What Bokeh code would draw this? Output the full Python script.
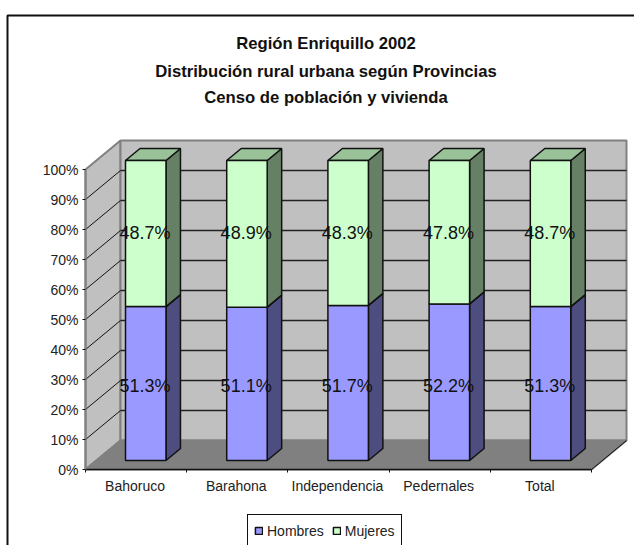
from bokeh.plotting import figure
from bokeh.embed import file_html
from bokeh.resources import INLINE
from bokeh.core.properties import value
from bokeh.models import (BoxAnnotation, FixedTicker, Label, Legend, LegendItem, Range1d)

provincias = ["Bahoruco", "Barahona", "Independencia", "Pedernales", "Total"]
hombres = [51.3, 51.1, 51.7, 52.2, 51.3]
mujeres = [48.7, 48.9, 48.3, 47.8, 48.7]
y_ticks = [0, 10, 20, 30, 40, 50, 60, 70, 80, 90, 100]
titulo = ["Región Enriquillo 2002",
          "Distribución rural urbana según Provincias",
          "Censo de población y vivienda"]

FONT = "Liberation Sans"
# oblique depth of the pseudo-3D box, in axis units per unit of depth
DX, DY = 35 / 101.2, 29 / 3
D_FRONT, D_BACK = 9 / 29, 21 / 29
BAR_GAP = 0.3
BAR_SHIFT = -0.012
LABEL_SHIFT = -0.02
LABEL_LEVELS = (25, 75.7)   # data labels sit on one common height per series


def pr(x, v, d):
    return x + d * DX, v + d * DY


W, H = 634, 545
ORIGIN_X, ORIGIN_Y = 85, 469   # where the axes cross, in pixels from the top-left
PX_CAT, PX_PCT = 101.2, 3

p = figure(width=W, height=H, output_backend="svg", toolbar_location=None,
           x_range=Range1d(-ORIGIN_X / PX_CAT, (W - ORIGIN_X) / PX_CAT),
           y_range=Range1d(-(H - ORIGIN_Y) / PX_PCT, ORIGIN_Y / PX_PCT),
           min_border=0, outline_line_color=None,
           background_fill_color="white", border_fill_color="white")
p.grid.visible = False

n = len(provincias)
# walls and floor
wx, wy = zip(pr(0, 0, 0), pr(0, 100, 0), pr(0, 100, 1), pr(0, 0, 1))
bx, by = zip(pr(0, 0, 1), pr(0, 100, 1), pr(n, 100, 1), pr(n, 0, 1))
fx, fy = zip(pr(0, 0, 0), pr(0, 0, 1), pr(n, 0, 1), pr(n, 0, 0))
p.patch(list(wx), list(wy), fill_color="#c0c0c0", line_color="#808080", line_width=2)
p.patch(list(bx), list(by), fill_color="#c0c0c0", line_color="#808080", line_width=2)
p.patch(list(fx), list(fy), fill_color="#808080", line_color="#808080", line_width=2)
p.line([pr(n, 0, 0)[0], pr(n, 0, 1)[0]], [pr(n, 0, 0)[1], pr(n, 0, 1)[1]], line_color="#111111", line_width=1)

# gridlines
for t in y_ticks[1:-1]:
    a, b, c = pr(0, t, 0), pr(0, t, 1), pr(n, t, 1)
    p.line([a[0], b[0]], [a[1], b[1]], line_color="#111111", line_width=1)
    p.line([b[0], c[0]], [b[1], c[1]], line_color="#222222", line_width=1.5)

renderers = []
for serie, base, col, side, tope, name in [
    (hombres, [0] * n, "#9999ff", "#4d4d80", "#7a7acc", "Hombres"),
    (mujeres, hombres, "#ccffcc", "#668066", "#99c299", "Mujeres"),
]:
    xs_side, ys_side, xs_top, ys_top = [], [], [], []
    L, R, B, T = [], [], [], []
    for i in range(n):
        x0, x1 = i + BAR_GAP + BAR_SHIFT, i + 1 - BAR_GAP + BAR_SHIFT
        v0, v1 = base[i], base[i] + serie[i]
        l, b0 = pr(x0, v0, D_FRONT)
        r, t0 = pr(x1, v1, D_FRONT)
        L.append(l); R.append(r); B.append(b0); T.append(t0)
        s = [pr(x1, v0, D_FRONT), pr(x1, v1, D_FRONT), pr(x1, v1, D_BACK), pr(x1, v0, D_BACK)]
        xs_side.append([q[0] for q in s]); ys_side.append([q[1] for q in s])
        u = [pr(x0, v1, D_FRONT), pr(x1, v1, D_FRONT), pr(x1, v1, D_BACK), pr(x0, v1, D_BACK)]
        xs_top.append([q[0] for q in u]); ys_top.append([q[1] for q in u])
    p.patches(xs_side, ys_side, fill_color=side, line_color="#111111", line_width=1.5)
    p.patches(xs_top, ys_top, fill_color=tope, line_color="#111111", line_width=1.5)
    r_ = p.quad(left=L, right=R, bottom=B, top=T, fill_color=col, line_color="#111111", line_width=1.5)
    renderers.append((name, r_))

# data labels
lx, ly, lt = [], [], []
for i in range(n):
    for level, val in zip(LABEL_LEVELS, (hombres[i], mujeres[i])):
        q = pr(i + 0.5 + LABEL_SHIFT, level, D_FRONT)
        lx.append(q[0]); ly.append(q[1]); lt.append(f"{val:.1f}%")
p.text(x=lx, y=ly, text=lt, text_align="center", text_baseline="middle",
       text_font=value(FONT), text_font_size="18px", text_color="#111111")

# axes
ya = p.yaxis[0]
ya.fixed_location = 0
ya.ticker = FixedTicker(ticks=y_ticks)
ya.bounds = (0, 100)
ya.major_label_overrides = {t: f"{t}%" for t in y_ticks}
ya.axis_line_color = "#808080"
ya.axis_line_width = 2
ya.major_tick_in = 0
ya.major_tick_out = 3
ya.major_tick_line_color = "#111111"
ya.minor_tick_line_color = None
ya.major_label_text_font = FONT
ya.major_label_text_font_size = "14px"
ya.major_label_text_color = "#222222"
ya.major_label_standoff = 4

xa = p.xaxis[0]
xa.fixed_location = 0
label_ticks = [i + 0.49 for i in range(n)]
xa.ticker = FixedTicker(ticks=label_ticks, minor_ticks=list(range(n + 1)))
xa.bounds = (0, n)
xa.major_label_overrides = dict(zip(label_ticks, provincias))
xa.axis_line_color = "#111111"
xa.axis_line_width = 1.5
xa.major_tick_line_color = None
xa.major_tick_in = 0
xa.major_tick_out = 0
xa.minor_tick_in = 0
xa.minor_tick_out = 3
xa.minor_tick_line_color = "#111111"
xa.major_label_text_font = FONT
xa.major_label_text_font_size = "14px"
xa.major_label_text_color = "#222222"
xa.major_label_standoff = 5

# chart frame: open to the right and bottom, as the picture is cut there
p.add_layout(BoxAnnotation(left=7, right=W + 50, top=H - 15, bottom=-50,
                           left_units="screen", right_units="screen", top_units="screen", bottom_units="screen",
                           fill_alpha=0, line_color="#111111", line_alpha=1, line_width=2))

for txt, y in zip(titulo, (43, 71, 97)):
    p.add_layout(Label(x=325.5, y=H - y, x_units="screen", y_units="screen", text=txt, text_align="center",
                       text_baseline="middle", text_font=FONT, text_font_style="bold", text_font_size="16.67px",
                       text_color="#111111"))

legend = Legend(items=[LegendItem(label=nm, renderers=[r]) for nm, r in renderers],
                orientation="horizontal", location=(247, -2), padding=6, margin=0, spacing=8,
                glyph_width=9, glyph_height=9, label_standoff=4, label_height=19,
                label_text_font=FONT, label_text_font_size="14px", label_text_color="#222222",
                border_line_color="#111111", border_line_alpha=1, border_line_width=1, background_fill_alpha=1)
p.add_layout(legend)

open("out.html", "w").write(file_html(p, INLINE))
